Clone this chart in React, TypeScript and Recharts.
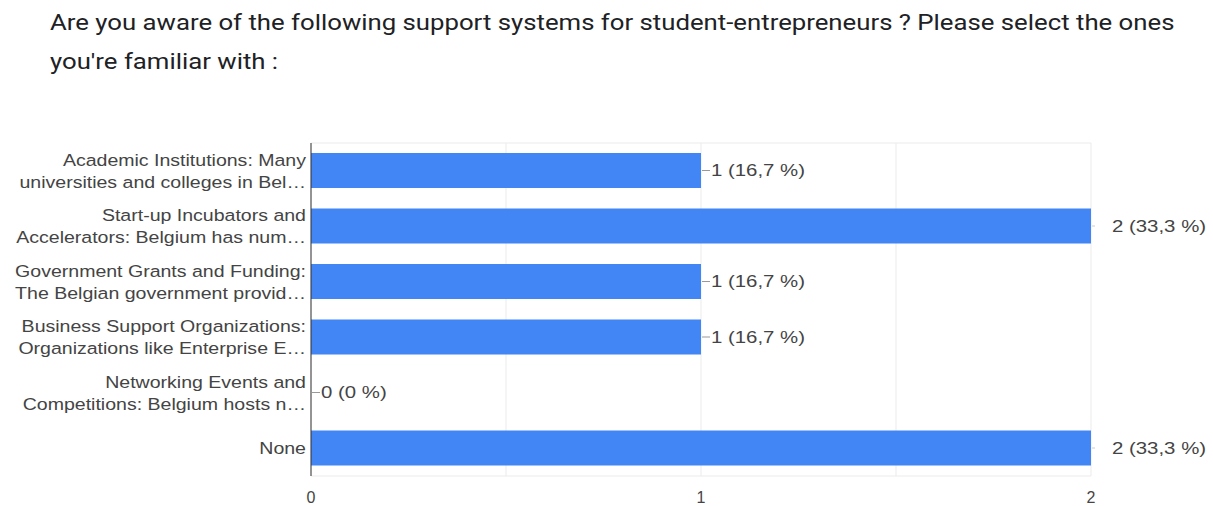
import { BarChart, Bar, XAxis, YAxis, CartesianGrid, LabelList } from 'recharts';

const categories = [
  ['Academic Institutions: Many', 'universities and colleges in Bel…'],
  ['Start-up Incubators and', 'Accelerators: Belgium has num…'],
  ['Government Grants and Funding:', 'The Belgian government provid…'],
  ['Business Support Organizations:', 'Organizations like Enterprise E…'],
  ['Networking Events and', 'Competitions: Belgium hosts n…'],
  ['None'],
];
const counts = [1, 2, 1, 1, 0, 2];
const percents = ['16,7', '33,3', '16,7', '16,7', '0', '33,3'];
const xTicks = [0, 1, 2];
const gridValues = [0, 0.5, 1, 1.5, 2];
const titleLines = [
  'Are you aware of the following support systems for student-entrepreneurs ? Please select the ones',
  "you're familiar with :",
];

const data = categories.map((lines, i) => ({
  name: lines.join('\n'),
  value: counts[i],
  label: `${counts[i]} (${percents[i]} %)`,
}));

const maxCount = Math.max(...counts);
const textColor = '#444444';
const font = '"Liberation Sans", Arial, sans-serif';

function CategoryTick(props: any) {
  const { x, y, payload } = props;
  const lines = String(payload.value).split('\n');
  const start = -((lines.length - 1) * 22) / 2;
  const ax = x + 3;
  return (
    <text
      x={ax}
      y={y}
      textAnchor="end"
      fill={textColor}
      fontSize={17}
      fontFamily={font}
      transform={`translate(${ax},0) scale(1.15,1) translate(${-ax},0)`}
    >
      {lines.map((l: string, i: number) => (
        <tspan key={i} x={ax} y={y + start + i * 22} dy="0.35em">
          {l}
        </tspan>
      ))}
    </text>
  );
}

function ValueLabel(props: any) {
  const { x, y, width, height, value } = props;
  const end = x + width;
  const cy = y + height / 2;
  const isMax = parseInt(String(value), 10) === maxCount;
  const textX = isMax ? end + 21 : end + 10;
  return (
    <g>
      <line x1={end + 1} y1={cy} x2={isMax ? end + 4 : end + 9} y2={cy} stroke={isMax ? '#cccccc' : '#999999'} />
      <text
        x={textX}
        y={cy}
        dy="0.35em"
        fill={textColor}
        fontSize={17}
        fontFamily={font}
        transform={`translate(${textX},0) scale(1.2,1) translate(${-textX},0)`}
      >
        {value}
      </text>
    </g>
  );
}

export default function App() {
  return (
    <div style={{ position: 'absolute', left: 0, top: 0, width: 1213, height: 506, background: '#fff' }}>
      <div
        style={{
          position: 'absolute',
          left: 50,
          top: 3,
          fontFamily: 'Roboto, sans-serif',
          fontSize: 22,
          lineHeight: '39px',
          color: '#202124',
          whiteSpace: 'nowrap',
          transform: 'scale(1.17,1)',
          transformOrigin: 'left top',
        }}
      >
        {titleLines.map((t) => (
          <div key={t}>{t}</div>
        ))}
      </div>
      <div style={{ position: 'absolute', left: 0, top: 0 }}>
        <BarChart
          width={1213}
          height={506}
          data={data}
          layout="vertical"
          margin={{ top: 143, right: 122, bottom: 0, left: 0 }}
          barCategoryGap={10}
        >
          <CartesianGrid
            stroke="#ebebeb"
            horizontalCoordinatesGenerator={({ offset }: any) => [offset.top, offset.top + offset.height]}
          />
          <XAxis
            type="number"
            domain={[0, 2]}
            ticks={gridValues}
            tickFormatter={(v: number) => (xTicks.includes(v) ? String(v) : '')}
            height={30}
            axisLine={false}
            tickLine={false}
            tick={{ fill: textColor, fontSize: 16, fontFamily: font }}
            tickMargin={10}
          />
          <YAxis
            type="category"
            dataKey="name"
            width={311}
            axisLine={{ stroke: '#333333' }}
            tickLine={false}
            tick={<CategoryTick />}
            interval={0}
          />
          <Bar dataKey="value" fill="#4285f4" barSize={35} minPointSize={0.01} isAnimationActive={false}>
            <LabelList dataKey="label" content={<ValueLabel />} />
          </Bar>
        </BarChart>
      </div>
    </div>
  );
}
